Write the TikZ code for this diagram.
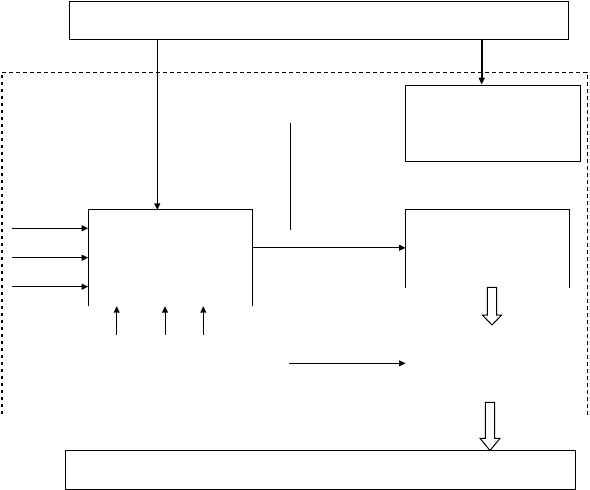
\documentclass[tikz,border=0pt]{standalone}
\usetikzlibrary{arrows.meta}
\begin{document}
\begin{tikzpicture}[x=1pt,y=-1pt,
  ln/.style={line width=1pt,black},
  boxs/.style={draw,line width=1pt,inner sep=0pt,rectangle},
  open/.style={inner sep=0pt,rectangle},
  arr/.style={ln,-{Triangle[length=6.5pt,width=6pt]}},
  harr/.style={draw,line width=1pt,fill=white,line join=miter}]
\useasboundingbox (0,0) rectangle (590,490);
% dashed boundary (open at bottom)
\draw[line width=0.8pt,dash pattern=on 4pt off 3pt] (587,415) -- (587,72) -- (2.3,72);
\draw[line width=2pt,dash pattern=on 3.5pt off 3.5pt] (2.3,414) -- (2.3,75);
% boxes
\node[boxs,minimum width=499pt,minimum height=38.3pt] (top) at (318.8,20.2) {};
\node[boxs,minimum width=174.6pt,minimum height=76.7pt] (ctl) at (493,123.4) {};
\node[boxs,minimum width=509.3pt,minimum height=38.6pt] (bot) at (320.4,470) {};
\node[open,minimum width=164pt,minimum height=96pt] (b1) at (170.3,258) {};
\node[open,minimum width=163.3pt,minimum height=77.3pt] (b3) at (487.4,248.7) {};
% open boxes: top edge and two sides
\draw[ln] (b1.south west) -- (b1.north west) -- (b1.north east) -- (b1.south east);
\draw[ln] (b3.south west) -- (b3.north west) -- (b3.north east) -- (b3.south east);
% arrows from top box
\draw[arr] (top.south -| 157.3,0) -- (b1.north -| 157.3,0);
\draw[ln,line width=2pt,-{Triangle[length=7pt,width=6pt]}] (top.south -| 481.7,0) -- (ctl.north -| 481.7,0);
% inputs to b1
\coordinate (i1) at (11.7,228.3);
\coordinate (i2) at (11.7,257.7);
\coordinate (i3) at (11.7,286.7);
\draw[arr] (i1) -- (i1 -| b1.west);
\draw[arr] (i2) -- (i2 -| b1.west);
\draw[arr] (i3) -- (i3 -| b1.west);
% upward arrows below b1
\coordinate (u1) at (116.7,335);
\coordinate (u2) at (165,335);
\coordinate (u3) at (203.3,335);
\draw[arr] (u1) -- (u1 |- b1.south);
\draw[arr] (u2) -- (u2 |- b1.south);
\draw[arr] (u3) -- (u3 |- b1.south);
% b1 to b3
\draw[arr] (b1.east |- 0,247.8) -- (b3.west |- 0,247.8);
% free vertical line
\coordinate (v1) at (290.7,123.3);
\coordinate (v2) at (290.7,230);
\draw[ln] (v1) -- (v2);
% lower horizontal arrow
\coordinate (h1) at (289.3,363.3);
\coordinate (h2) at (405.5,363.3);
\draw[arr] (h1) -- (h2);
% hollow arrows
\draw[harr] (487.3,287.3) -- (496.7,287.3) -- (496.7,315) -- (501.7,315) -- (492,325) -- (482.3,315) -- (487.3,315) -- cycle;
\draw[harr] (485.3,402.3) -- (494.7,402.3) -- (494.7,438.3) -- (500,438.3) -- (490,450.5) -- (480,438.3) -- (485.3,438.3) -- cycle;
\end{tikzpicture}
\end{document}
